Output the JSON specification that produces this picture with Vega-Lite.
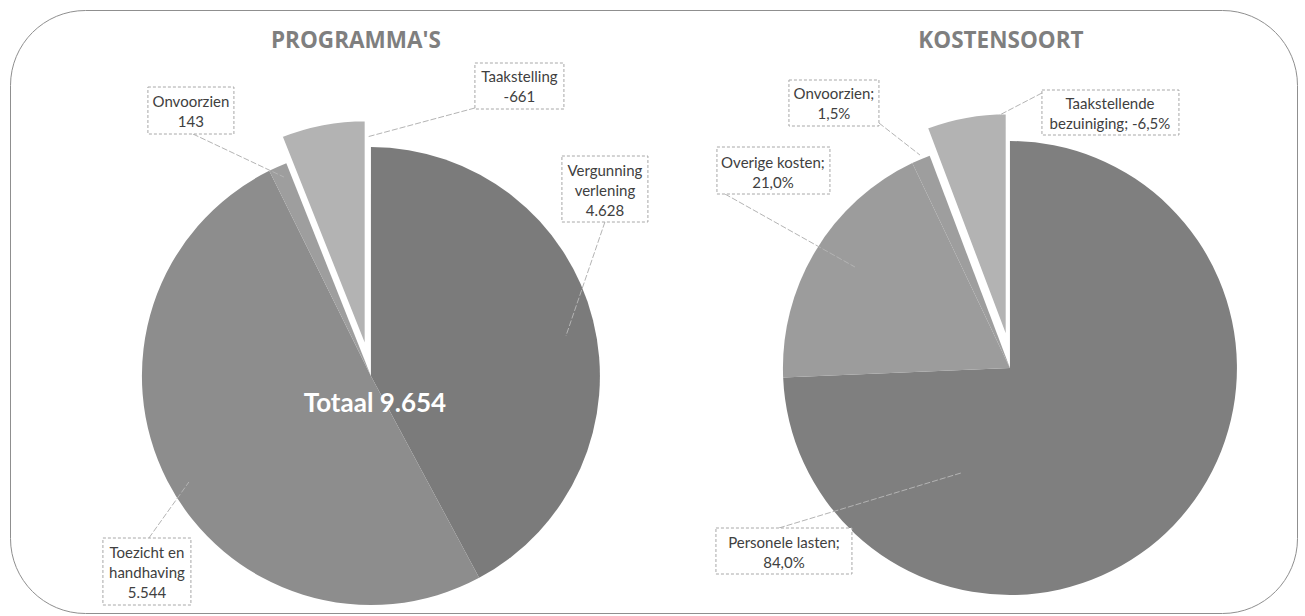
{
  "$schema": "https://vega.github.io/schema/vega-lite/v6.json",
  "width": 1305,
  "height": 616,
  "autosize": {"type": "fit", "contains": "padding"},
  "padding": {"left": 10, "top": 10, "right": 8, "bottom": 3},
  "background": "white",
  "config": {
    "view": {"stroke": "#8f8f8f", "strokeWidth": 1, "cornerRadius": 75},
    "text": {"font": "Lato"}
  },
  "data": {
    "values": [
      {"chart": "PROGRAMMA'S", "idx": 1, "category": "Vergunning verlening", "value": 4628, "label": ["Vergunning", "verlening", "4.628"]},
      {"chart": "PROGRAMMA'S", "idx": 2, "category": "Toezicht en handhaving", "value": 5544, "label": ["Toezicht en", "handhaving", "5.544"]},
      {"chart": "PROGRAMMA'S", "idx": 3, "category": "Onvoorzien", "value": 143, "label": ["Onvoorzien", "143"]},
      {"chart": "PROGRAMMA'S", "idx": 4, "category": "Taakstelling", "value": -661, "label": ["Taakstelling", "-661"]},
      {"chart": "KOSTENSOORT", "idx": 1, "category": "Personele lasten", "value": 84.0, "label": ["Personele lasten;", "84,0%"]},
      {"chart": "KOSTENSOORT", "idx": 2, "category": "Overige kosten", "value": 21.0, "label": ["Overige kosten;", "21,0%"]},
      {"chart": "KOSTENSOORT", "idx": 3, "category": "Onvoorzien", "value": 1.5, "label": ["Onvoorzien;", "1,5%"]},
      {"chart": "KOSTENSOORT", "idx": 4, "category": "Taakstellende bezuiniging", "value": -6.5, "label": ["Taakstellende", "bezuiniging; -6,5%"]}
    ]
  },
  "layer": [
    {
      "transform": [{"filter": {"field": "chart", "equal": "PROGRAMMA'S"}}],
      "layer": [
        {
          "mark": {"type": "arc", "radius": 229, "yOffset": 64.5},
          "encoding": {
            "x": {"field": "chart", "type": "nominal", "axis": null, "scale": {"type": "point", "domain": ["PROGRAMMA'S", "KOSTENSOORT"], "padding": 0.507, "align": 0.557}},
            "theta": {"field": "value", "type": "quantitative", "stack": "normalize"},
            "order": {"field": "idx", "type": "quantitative"},
            "color": {"field": "category", "type": "nominal", "legend": null, "scale": {"domain": ["Vergunning verlening", "Toezicht en handhaving", "Onvoorzien", "Taakstelling", "Personele lasten", "Overige kosten", "Taakstellende bezuiniging"], "range": ["#7b7b7b", "#8d8d8d", "#9e9e9e", "#b3b3b3", "#7f7f7f", "#9c9c9c", "#b3b3b3"]}},
            "opacity": {"condition": {"test": "datum.value < 0", "value": 0}, "value": 1}
          }
        },
        {
          "mark": {"type": "arc", "radius": 229, "yOffset": 37.5, "xOffset": -5, "stroke": "white", "strokeWidth": 2.5},
          "encoding": {
            "x": {"field": "chart", "type": "nominal", "axis": null},
            "theta": {"field": "value", "type": "quantitative", "stack": "normalize"},
            "order": {"field": "idx", "type": "quantitative"},
            "color": {"field": "category", "type": "nominal", "legend": null},
            "opacity": {"condition": {"test": "datum.value < 0", "value": 1}, "value": 0}
          }
        },
        {
          "transform": [{"filter": {"field": "idx", "equal": 1}}],
          "layer": [
            {
              "mark": {"type": "text", "font": "Open Sans", "fontWeight": "bold", "fontSize": 22.5, "fill": "#7f7f7f", "yOffset": 64.5, "dx": -15, "dy": -335},
              "encoding": {"x": {"field": "chart", "type": "nominal", "axis": null}, "text": {"field": "chart", "type": "nominal"}}
            },
            {
              "mark": {"type": "text", "text": "Totaal 9.654", "fontWeight": "bold", "fontSize": 26, "fill": "white", "yOffset": 64.5, "dx": 4, "dy": 28},
              "encoding": {"x": {"field": "chart", "type": "nominal", "axis": null}}
            }
          ]
        },
        {
          "transform": [{"filter": {"field": "category", "equal": "Vergunning verlening"}}],
          "layer": [
            {"mark": {"type": "point", "shape": "M234,-154L195,-40", "size": 4, "filled": false, "stroke": "#b4b4b4", "strokeWidth": 1, "strokeDash": [6, 2], "opacity": 1, "yOffset": 64.5}, "encoding": {"x": {"field": "chart", "type": "nominal", "axis": null}}},
            {"mark": {"type": "point", "shape": "M191,-220H277V-154H191Z", "size": 4, "filled": false, "fill": "white", "stroke": "#a8a8a8", "strokeWidth": 1, "strokeDash": [3, 2], "opacity": 1, "yOffset": 64.5}, "encoding": {"x": {"field": "chart", "type": "nominal", "axis": null}}},
            {"mark": {"type": "text", "fontSize": 15, "lineHeight": 20, "fill": "#404040", "yOffset": 64.5, "dx": 234, "dy": -205}, "encoding": {"x": {"field": "chart", "type": "nominal", "axis": null}, "text": {"field": "label", "type": "nominal"}}}
          ]
        },
        {
          "transform": [{"filter": {"field": "category", "equal": "Toezicht en handhaving"}}],
          "layer": [
            {"mark": {"type": "point", "shape": "M-222,162L-182,106", "size": 4, "filled": false, "stroke": "#b4b4b4", "strokeWidth": 1, "strokeDash": [6, 2], "opacity": 1, "yOffset": 64.5}, "encoding": {"x": {"field": "chart", "type": "nominal", "axis": null}}},
            {"mark": {"type": "point", "shape": "M-268,162H-180V229H-268Z", "size": 4, "filled": false, "fill": "white", "stroke": "#a8a8a8", "strokeWidth": 1, "strokeDash": [3, 2], "opacity": 1, "yOffset": 64.5}, "encoding": {"x": {"field": "chart", "type": "nominal", "axis": null}}},
            {"mark": {"type": "text", "fontSize": 15, "lineHeight": 20, "fill": "#404040", "yOffset": 64.5, "dx": -224, "dy": 177}, "encoding": {"x": {"field": "chart", "type": "nominal", "axis": null}, "text": {"field": "label", "type": "nominal"}}}
          ]
        },
        {
          "transform": [{"filter": {"field": "category", "equal": "Onvoorzien"}}],
          "layer": [
            {"mark": {"type": "point", "shape": "M-178,-242L-87,-199", "size": 4, "filled": false, "stroke": "#b4b4b4", "strokeWidth": 1, "strokeDash": [6, 2], "opacity": 1, "yOffset": 64.5}, "encoding": {"x": {"field": "chart", "type": "nominal", "axis": null}}},
            {"mark": {"type": "point", "shape": "M-223,-289H-137V-242H-223Z", "size": 4, "filled": false, "fill": "white", "stroke": "#a8a8a8", "strokeWidth": 1, "strokeDash": [3, 2], "opacity": 1, "yOffset": 64.5}, "encoding": {"x": {"field": "chart", "type": "nominal", "axis": null}}},
            {"mark": {"type": "text", "fontSize": 15, "lineHeight": 20, "fill": "#404040", "yOffset": 64.5, "dx": -180, "dy": -274}, "encoding": {"x": {"field": "chart", "type": "nominal", "axis": null}, "text": {"field": "label", "type": "nominal"}}}
          ]
        },
        {
          "transform": [{"filter": {"field": "category", "equal": "Taakstelling"}}],
          "layer": [
            {"mark": {"type": "point", "shape": "M104,-268L-4,-239", "size": 4, "filled": false, "stroke": "#b4b4b4", "strokeWidth": 1, "strokeDash": [6, 2], "opacity": 1, "yOffset": 64.5}, "encoding": {"x": {"field": "chart", "type": "nominal", "axis": null}}},
            {"mark": {"type": "point", "shape": "M104,-313H193V-267H104Z", "size": 4, "filled": false, "fill": "white", "stroke": "#a8a8a8", "strokeWidth": 1, "strokeDash": [3, 2], "opacity": 1, "yOffset": 64.5}, "encoding": {"x": {"field": "chart", "type": "nominal", "axis": null}}},
            {"mark": {"type": "text", "fontSize": 15, "lineHeight": 20, "fill": "#404040", "yOffset": 64.5, "dx": 148.5, "dy": -299}, "encoding": {"x": {"field": "chart", "type": "nominal", "axis": null}, "text": {"field": "label", "type": "nominal"}}}
          ]
        }
      ]
    },
    {
      "transform": [{"filter": {"field": "chart", "equal": "KOSTENSOORT"}}],
      "layer": [
        {
          "mark": {"type": "arc", "radius": 227, "yOffset": 56.5},
          "encoding": {
            "x": {"field": "chart", "type": "nominal", "axis": null},
            "theta": {"field": "value", "type": "quantitative", "stack": "normalize"},
            "order": {"field": "idx", "type": "quantitative"},
            "color": {"field": "category", "type": "nominal", "legend": null},
            "opacity": {"condition": {"test": "datum.value < 0", "value": 0}, "value": 1}
          }
        },
        {
          "mark": {"type": "arc", "radius": 227, "yOffset": 28.5, "xOffset": -3, "stroke": "white", "strokeWidth": 2.5},
          "encoding": {
            "x": {"field": "chart", "type": "nominal", "axis": null},
            "theta": {"field": "value", "type": "quantitative", "stack": "normalize"},
            "order": {"field": "idx", "type": "quantitative"},
            "color": {"field": "category", "type": "nominal", "legend": null},
            "opacity": {"condition": {"test": "datum.value < 0", "value": 1}, "value": 0}
          }
        },
        {
          "transform": [{"filter": {"field": "idx", "equal": 1}}],
          "mark": {"type": "text", "font": "Open Sans", "fontWeight": "bold", "fontSize": 22.5, "fill": "#7f7f7f", "yOffset": 56.5, "dx": -9, "dy": -327},
          "encoding": {"x": {"field": "chart", "type": "nominal", "axis": null}, "text": {"field": "chart", "type": "nominal"}}
        },
        {
          "transform": [{"filter": {"field": "category", "equal": "Personele lasten"}}],
          "layer": [
            {"mark": {"type": "point", "shape": "M-231,160L-49,105", "size": 4, "filled": false, "stroke": "#b4b4b4", "strokeWidth": 1, "strokeDash": [6, 2], "opacity": 1, "yOffset": 56.5}, "encoding": {"x": {"field": "chart", "type": "nominal", "axis": null}}},
            {"mark": {"type": "point", "shape": "M-294,160H-158V206H-294Z", "size": 4, "filled": false, "fill": "white", "stroke": "#a8a8a8", "strokeWidth": 1, "strokeDash": [3, 2], "opacity": 1, "yOffset": 56.5}, "encoding": {"x": {"field": "chart", "type": "nominal", "axis": null}}},
            {"mark": {"type": "text", "fontSize": 15, "lineHeight": 20, "fill": "#404040", "yOffset": 56.5, "dx": -226, "dy": 175}, "encoding": {"x": {"field": "chart", "type": "nominal", "axis": null}, "text": {"field": "label", "type": "nominal"}}}
          ]
        },
        {
          "transform": [{"filter": {"field": "category", "equal": "Overige kosten"}}],
          "layer": [
            {"mark": {"type": "point", "shape": "M-285,-174L-155,-101", "size": 4, "filled": false, "stroke": "#b4b4b4", "strokeWidth": 1, "strokeDash": [6, 2], "opacity": 1, "yOffset": 56.5}, "encoding": {"x": {"field": "chart", "type": "nominal", "axis": null}}},
            {"mark": {"type": "point", "shape": "M-293,-221H-180V-174H-293Z", "size": 4, "filled": false, "fill": "white", "stroke": "#a8a8a8", "strokeWidth": 1, "strokeDash": [3, 2], "opacity": 1, "yOffset": 56.5}, "encoding": {"x": {"field": "chart", "type": "nominal", "axis": null}}},
            {"mark": {"type": "text", "fontSize": 15, "lineHeight": 20, "fill": "#404040", "yOffset": 56.5, "dx": -237, "dy": -205}, "encoding": {"x": {"field": "chart", "type": "nominal", "axis": null}, "text": {"field": "label", "type": "nominal"}}}
          ]
        },
        {
          "transform": [{"filter": {"field": "category", "equal": "Onvoorzien"}}],
          "layer": [
            {"mark": {"type": "point", "shape": "M-131,-245L-90,-213", "size": 4, "filled": false, "stroke": "#b4b4b4", "strokeWidth": 1, "strokeDash": [6, 2], "opacity": 1, "yOffset": 56.5}, "encoding": {"x": {"field": "chart", "type": "nominal", "axis": null}}},
            {"mark": {"type": "point", "shape": "M-221,-288H-131V-242H-221Z", "size": 4, "filled": false, "fill": "white", "stroke": "#a8a8a8", "strokeWidth": 1, "strokeDash": [3, 2], "opacity": 1, "yOffset": 56.5}, "encoding": {"x": {"field": "chart", "type": "nominal", "axis": null}}},
            {"mark": {"type": "text", "fontSize": 15, "lineHeight": 20, "fill": "#404040", "yOffset": 56.5, "dx": -176, "dy": -274}, "encoding": {"x": {"field": "chart", "type": "nominal", "axis": null}, "text": {"field": "label", "type": "nominal"}}}
          ]
        },
        {
          "transform": [{"filter": {"field": "category", "equal": "Taakstellende bezuiniging"}}],
          "layer": [
            {"mark": {"type": "point", "shape": "M32,-275L-45,-235", "size": 4, "filled": false, "stroke": "#b4b4b4", "strokeWidth": 1, "strokeDash": [6, 2], "opacity": 1, "yOffset": 56.5}, "encoding": {"x": {"field": "chart", "type": "nominal", "axis": null}}},
            {"mark": {"type": "point", "shape": "M32,-278H169V-233H32Z", "size": 4, "filled": false, "fill": "white", "stroke": "#a8a8a8", "strokeWidth": 1, "strokeDash": [3, 2], "opacity": 1, "yOffset": 56.5}, "encoding": {"x": {"field": "chart", "type": "nominal", "axis": null}}},
            {"mark": {"type": "text", "fontSize": 15, "lineHeight": 20, "fill": "#404040", "yOffset": 56.5, "dx": 100, "dy": -264}, "encoding": {"x": {"field": "chart", "type": "nominal", "axis": null}, "text": {"field": "label", "type": "nominal"}}}
          ]
        }
      ]
    }
  ]
}
